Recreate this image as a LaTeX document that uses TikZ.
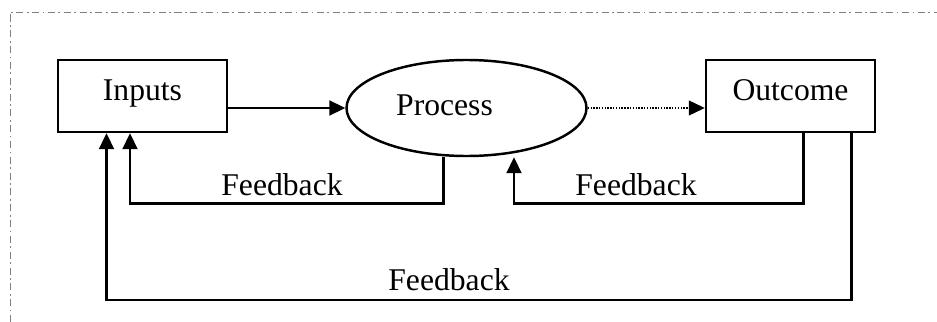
\documentclass[tikz,border=0pt]{standalone}
\usepackage{fontspec}
\setmainfont{Liberation Serif}
\usetikzlibrary{arrows.meta,shapes.geometric}
\tikzset{
  box/.style={draw, line width=1.4pt, minimum width=3.38cm, minimum height=1.44cm, inner sep=0pt, text height=0.68em, text depth=0.22em},
  oval/.style={draw, ellipse, line width=1.4pt, minimum width=4.8cm, minimum height=1.92cm, inner sep=0pt},
  link/.style={line width=1.2pt, -{Triangle[width=0.3cm,length=0.32cm]}},
  faint/.style={line width=0.7pt, dash pattern=on 0.8pt off 0.8pt},
  fbtext/.style={anchor=base, inner sep=0pt},
  frame/.style={gray, line width=0.5pt, dash pattern=on 4pt off 2pt on 1pt off 2pt}
}
\begin{document}
\begin{tikzpicture}[font=\fontsize{18}{21.6}\selectfont]
\useasboundingbox (0,0) rectangle (18.74,-6.44);
\draw [frame] (0.2,-6.44) |- (18.74,-0.24);

\node (in) at (2.85,-1.92) [box] {Inputs};
\node (pr) at (9.33,-2.16) [oval, label={[xshift=-0.44cm, yshift=0.06cm]center:Process}] {};
\node (ou) at (15.81,-1.92) [box] {Outcome};

\draw [link] (in.east |- pr.west) -- (pr.west);
\draw [link, faint] (pr.east) -- (ou.west |- pr.east);

\coordinate (a1) at (8.87,-4.07);
\coordinate (a2) at (2.6,-4.07);
\coordinate (b1) at (16.07,-4.07);
\coordinate (b2) at (10.28,-4.07);
\coordinate (d1) at (17.03,-6.0);
\coordinate (d2) at (2.13,-6.0);

\draw [link] (a1 |- pr.south) -- (a1) -- (a2) -- (a2 |- in.south);
\draw [link] (b1 |- ou.south) -- (b1) -- (b2) -- (b2 |- pr.south);
\draw [link] (d1 |- ou.south) -- (d1) -- (d2) -- (d2 |- in.south);

\node (fb1) at (5.64,-3.9) [fbtext] {Feedback};
\node (fb2) at (12.72,-3.9) [fbtext] {Feedback};
\node (fb3) at (8.98,-5.81) [fbtext] {Feedback};
\end{tikzpicture}
\end{document}
